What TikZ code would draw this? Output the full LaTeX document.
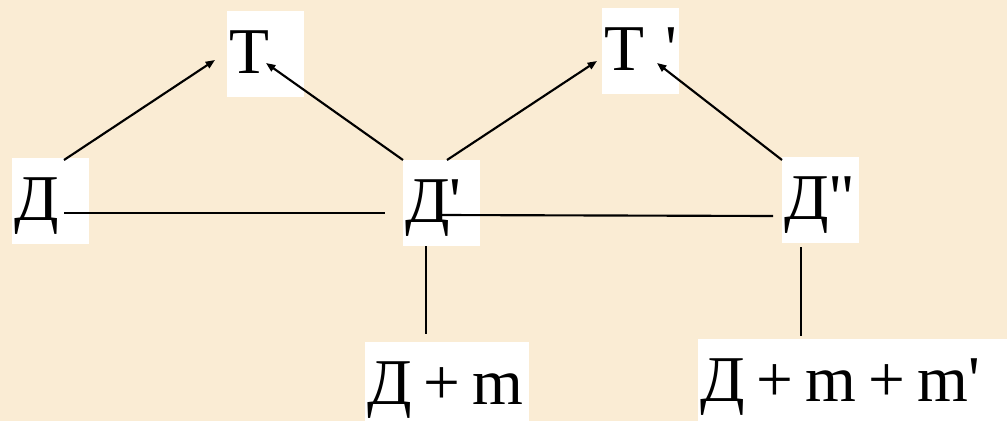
\documentclass[tikz,border=0pt]{standalone}
\usepackage{fontspec}
\newfontfamily\lblfont{Liberation Serif}
\newcommand\sumtight{\spaceskip=9pt\relax}
\usepackage{xcolor}
\usepackage{tikz}
\usetikzlibrary{arrows.meta}
\definecolor{parchment}{RGB}{250,236,212}

\begin{document}
\begin{tikzpicture}[
    x=0.75pt, y=-0.75pt,
    lbl/.style={fill=white, anchor=north west, align=left,
                inner xsep=1.5pt, inner ysep=0pt,
                text height=46.5pt, text depth=18pt,
                font=\lblfont\fontsize{49}{55}\selectfont},
    link/.style={line width=1.6pt, black},
    arr/.style={link, -{Triangle[length=7pt, width=5.5pt]}},
]
% --- background ---
\fill[parchment] (0,0) rectangle (1007,421);
\useasboundingbox (0,0) rectangle (1007,421);

% --- top row ---
\node[lbl, text width=54.75pt] (t)  at (227,11) {\mbox{T}};
\node[lbl, text width=54.75pt] (tp) at (602,8)  {\mbox{T '}};

% --- middle row ---
\node[lbl, text width=54.75pt] (d)   at (12,158)  {\mbox{Д}};
\node[lbl, text width=54.75pt] (dp)  at (403,160) {\mbox{Д'}};
\node[lbl, text width=54.75pt] (dpp) at (782,157) {\mbox{Д"}};

% --- bottom row ---
\node[lbl, text width=120pt] (dm)  at (365,342) {\sumtight\mbox{Д + m}};
\node[lbl, text width=231pt] (dmm) at (698,339) {\sumtight\mbox{Д + m + m'}};

% --- arrows up ---
\draw[arr] ([shift={(52,2)}]d.north west)  -- ([shift={(-12,49)}]t.north west);
\draw[arr] (dp.north west)                 -- ([shift={(39,52)}]t.north west);
\draw[arr] ([shift={(44,0)}]dp.north west) -- ([shift={(-5,53)}]tp.north west);
\draw[arr] ([shift={(0,3)}]dpp.north west) -- ([shift={(55,55)}]tp.north west);

% --- horizontal links ---
\draw[link] ([shift={(52,55)}]d.north west)  -- ([shift={(-18,53)}]dp.north west);
\draw[link] ([shift={(37,55)}]dp.north west) -- ([shift={(-9,59)}]dpp.north west);

% --- vertical links ---
\draw[link] ([shift={(23,86)}]dp.north west)  -- ([shift={(61,-8)}]dm.north west);
\draw[link] ([shift={(19,90)}]dpp.north west) -- ([shift={(103,-3)}]dmm.north west);
\end{tikzpicture}
\end{document}
